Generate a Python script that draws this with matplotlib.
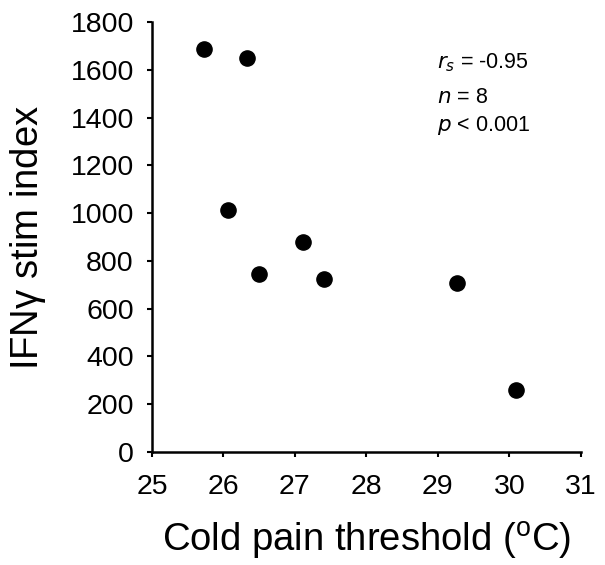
import matplotlib
matplotlib.use("Agg")
import matplotlib.pyplot as plt

plt.rcParams['font.family'] = ['Liberation Sans', 'DejaVu Sans']

cold_pain_threshold = [25.73, 26.33, 26.07, 26.50, 27.12, 27.40, 29.27, 30.10]
ifng_stim_index = [1688, 1650, 1012, 746, 879, 724, 707, 260]
x_ticks = [25, 26, 27, 28, 29, 30, 31]
y_ticks = [0, 200, 400, 600, 800, 1000, 1200, 1400, 1600, 1800]

fig = plt.figure(figsize=(6.05, 5.65), dpi=100)
ax = fig.add_axes([0.2512, 0.2005, 0.960 - 0.2512, 0.9605 - 0.2005])
ax.scatter(cold_pain_threshold, ifng_stim_index, s=120, color='black', zorder=3, clip_on=False)
ax.set_xlim(25, 31)
ax.set_ylim(0, 1800)
ax.set_xticks(x_ticks)
ax.set_yticks(y_ticks)
ax.spines['top'].set_visible(False)
ax.spines['right'].set_visible(False)
for s in ['left', 'bottom']:
    ax.spines[s].set_linewidth(1.8)
ax.tick_params(direction='out', length=3.6, width=1.5, labelsize=20.5)
ax.tick_params(axis='y', pad=9.5)
ax.tick_params(axis='x', pad=12.5)
ax.set_xlabel('Cold pain threshold ($\\mathregular{^{o}}$C)', fontsize=27.5, labelpad=14)
ax.set_ylabel('IFN$\\mathregular{\\gamma}$ stim index', fontsize=27.5, labelpad=16)

ax.text(0.664, 0.8936, '$\\it{r_s}$ = -0.95', transform=ax.transAxes, fontsize=15.5, va='baseline')
ax.text(0.664, 0.812, '$\\it{n}$ = 8', transform=ax.transAxes, fontsize=15.5, va='baseline')
ax.text(0.664, 0.7469, '$\\it{p}$ < 0.001', transform=ax.transAxes, fontsize=15.5, va='baseline')

fig.savefig('out.png', dpi=100)
